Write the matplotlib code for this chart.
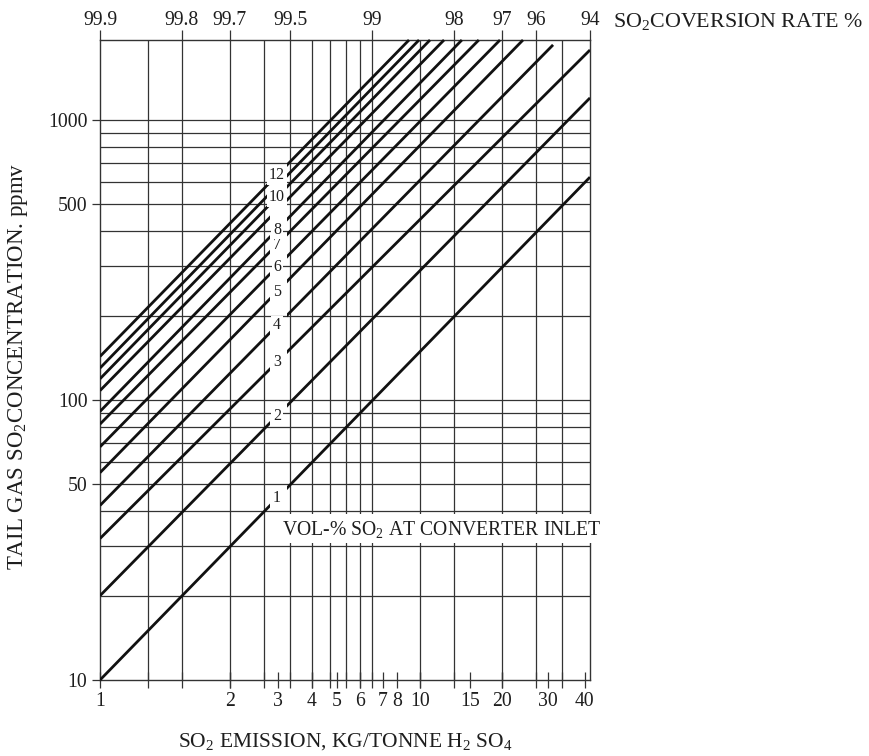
import numpy as np
import matplotlib
matplotlib.use("Agg")
import matplotlib.pyplot as plt
from matplotlib.patches import Rectangle
from matplotlib.ticker import NullLocator

plt.rcParams["font.family"] = ["Liberation Serif", "DejaVu Serif"]
plt.rcParams["mathtext.fontset"] = "custom"
plt.rcParams["mathtext.rm"] = "Liberation Serif"
plt.rcParams["mathtext.it"] = "Liberation Serif:italic"

# x coordinate: unconverted SO2 in percent (100 - conversion rate)
# one line per inlet SO2 concentration (vol-%)
inlet_so2_pct = [1, 2, 3, 4, 5, 6, 7, 8, 9, 10, 11, 12]
ppm_at_start = [10, 20, 32, 42, 55, 68, 82, 91, 108, 119, 130, 143]   # at 99.9 % conversion
end_unconverted = [6.33, 6.33, 6.33, 4.63, 3.59, 2.955, 2.47, 2.14, 1.84, 1.634, 1.489, 1.368]
end_ppm = [625, 1199, 1778, 1854, 1930, 1930, 1930, 1930, 1930, 1930, 1930, 1930]
labelled_inlet = [1, 2, 3, 4, 5, 6, 7, 8, 10, 12]

conversion_labels = ["99.9", "99.8", "99.7", "99.5", "99", "98", "97", "96", "94"]
conversion_unconverted = [0.1, 0.2, 0.3, 0.5, 1.0, 2.0, 3.0, 4.0, 6.33]

emission_labels = ["1", "2", "3", "4", "5", "6", "7", "8", "10", "15", "20", "30", "40"]
emission_unconverted = [0.1, 0.3, 0.451, 0.6, 0.744, 0.9, 1.097, 1.234, 1.5, 2.293, 3.0, 4.44, 6.06]

grid_unconverted = [0.15, 0.2, 0.3, 0.4, 0.5, 0.6, 0.7, 0.8, 0.9, 1.0, 1.5, 2.0, 3.0, 4.0, 5.0]
grid_ppm = [20, 30, 40, 50, 60, 70, 80, 90, 100, 200, 300, 400, 500, 600, 700, 800, 900, 1000]
ppm_ticks = [10, 50, 100, 500, 1000]

X_MIN, X_MAX = 0.1, 6.33
Y_MIN, Y_MAX = 10, 1930
GAP_LO, GAP_HI = 0.4217, 0.487     # break in the lines where the labels sit
LABEL_X = 0.4477

GRID_C = "#333333"
INK = "#111111"
TEXT_C = "#1e1e1e"
TICK_FS = 14.2

fig = plt.figure(figsize=(8.69, 7.56), dpi=100)
ax = fig.add_axes([100 / 869, 76 / 756, 490 / 869, 640 / 756])
ax.set_xscale("log")
ax.set_yscale("log")
ax.set_xlim(X_MIN, X_MAX)
ax.set_ylim(Y_MIN, Y_MAX)

for u in grid_unconverted:
    ax.axvline(u, color=GRID_C, lw=0.9, zorder=1)
for p in grid_ppm:
    ax.axhline(p, color=GRID_C, lw=0.9, zorder=1)

# concentration lines, each drawn in two parts around the label column
for c, y0, x1, y1 in zip(inlet_so2_pct, ppm_at_start, end_unconverted, end_ppm):
    for xa, xb in [(X_MIN, GAP_LO), (GAP_HI, X_MAX)]:
        ln, = ax.plot([X_MIN, x1], [y0, y1], color=INK, lw=2.0,
                      solid_capstyle="butt", zorder=3)
        ln.set_clip_path(Rectangle((xa, 1), xb - xa, 1e4, transform=ax.transData))
    if c in labelled_inlet:
        slope = np.log(y1 / y0) / np.log(x1 / X_MIN)
        y_lab = y0 * (LABEL_X / X_MIN) ** slope
        ax.text(LABEL_X, y_lab, str(c), ha="center", va="center", fontsize=11.5,
                color=TEXT_C, zorder=4,
                bbox=dict(facecolor="white", edgecolor="none", pad=1.2))

# caption box across the grid
ax.add_patch(Rectangle((0.439, 30.8), 6.9 - 0.439, 39.1 - 30.8, facecolor="white",
                       edgecolor="none", zorder=4, clip_on=False))
ax.text(0.466, 34.6, r"VOL-% SO$_\mathregular{2}$ AT CONVERTER INLET", ha="left",
        va="center", fontsize=14.2, color=TEXT_C, zorder=5, clip_on=False)

for s in ax.spines.values():
    s.set_color(GRID_C)
    s.set_linewidth(1.0)

# bottom: emission scale
ax.xaxis.set_minor_locator(NullLocator())
ax.set_xticks(emission_unconverted, labels=emission_labels)
ax.set_xticks(grid_unconverted, minor=True)
ax.xaxis.remove_overlapping_locs = False
ax.tick_params(axis="x", which="both", direction="inout", length=11, width=0.9,
               color=GRID_C, labelsize=TICK_FS, pad=3.5, labelcolor=TEXT_C)
ax.tick_params(axis="x", which="minor", labelbottom=False)

# left: tail gas concentration
ax.yaxis.set_minor_locator(NullLocator())
ax.set_yticks(ppm_ticks, labels=[str(v) for v in ppm_ticks])
ax.tick_params(axis="y", which="major", direction="out", length=6, width=0.9,
               color=GRID_C, labelsize=TICK_FS, pad=3, labelcolor=TEXT_C)

# top: conversion rate
top = ax.secondary_xaxis("top", functions=(lambda x: x, lambda x: x))
top.set_xscale("log")
top.xaxis.set_minor_locator(NullLocator())
top.set_xticks(conversion_unconverted, labels=conversion_labels)
top.tick_params(axis="x", direction="out", length=7.2, width=0.9, color=GRID_C,
                labelsize=TICK_FS, pad=0, labelcolor=TEXT_C)
top.spines["top"].set_visible(False)

fig.text(613 / 869, 1 - 21 / 756, r"SO$_\mathregular{2}$COVERSION RATE %", ha="left",
         va="center", fontsize=15.8, color=TEXT_C)
fig.text(18 / 869, 1 - 366 / 756, r"TAIL GAS SO$_\mathregular{2}$CONCENTRATION. ppmv",
         rotation=90, ha="center", va="center", fontsize=16.5, color=TEXT_C)
fig.text(345 / 869, 1 - 742 / 756,
         r"SO$_\mathregular{2}$ EMISSION, KG/TONNE H$_\mathregular{2}$ SO$_\mathregular{4}$",
         ha="center", va="center", fontsize=15.5, color=TEXT_C)

fig.savefig("out.png", dpi=100, facecolor="white")
